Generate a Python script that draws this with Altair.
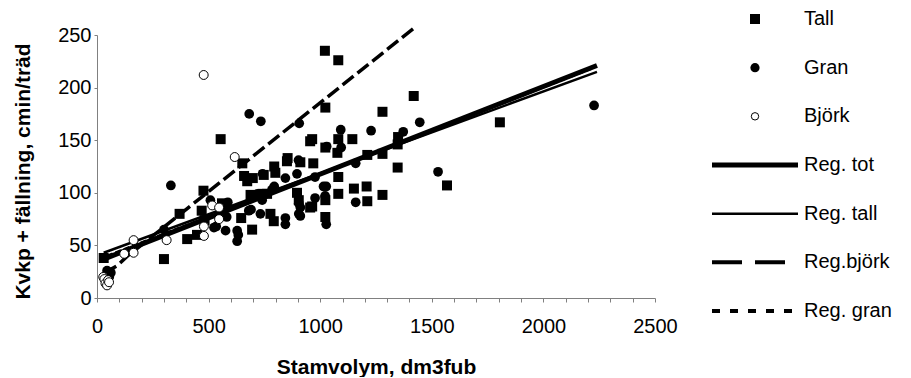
import altair as alt
import pandas as pd

# ---------------- data ----------------
tall_x = [30, 300, 370, 404, 448, 469, 477, 482, 554, 560, 646, 651, 659, 673, 688, 695, 698, 742, 747, 762,
          777, 792, 794, 799, 851, 854, 896, 904, 911, 955, 955, 964, 964, 969, 1021, 1023, 1023, 1023, 1023, 1077,
          1081, 1081, 1081, 1081, 1144, 1151, 1208, 1211, 1211, 1279, 1279, 1279, 1347, 1349, 1347, 1419, 1568, 1805]
tall_y = [38, 37, 80, 56, 60, 83, 102, 74, 151, 90, 76, 128, 116, 111, 98, 65, 114, 99, 117, 99,
          80, 73, 125, 119, 130, 133, 100, 93, 129, 149, 86, 151, 87, 128, 235, 181, 143, 93, 77, 138,
          226, 151, 115, 99, 151, 104, 106, 92, 136, 177, 137, 98, 146, 153, 124, 192, 107, 167]

gran_x = [45, 55, 62, 300, 331, 508, 524, 534, 554, 576, 581, 586, 628, 628, 633, 680, 682, 690, 719, 732,
          734, 740, 742, 784, 794, 844, 844, 844, 896, 903, 906, 904, 904, 911, 911, 977, 977, 1015, 1022, 1027,
          1029, 1027, 1092, 1094, 1159, 1159, 1228, 1372, 1446, 1528, 2227]
gran_y = [26, 20, 24, 65, 107, 93, 67, 68, 83, 64, 77, 91, 64, 54, 60, 83, 175, 84, 99, 80,
          168, 93, 118, 103, 106, 114, 76, 70, 118, 131, 166, 90, 80, 86, 78, 95, 115, 106, 97, 106,
          144, 70, 160, 143, 91, 128, 159, 158, 167, 120, 183]

bjork_x = [28, 33, 38, 45, 50, 54, 122, 164, 164, 312, 479, 479, 478, 516, 547, 547, 617]
bjork_y = [20, 18, 14, 12, 17, 15, 42, 55, 43, 55, 68, 59, 212, 88, 86, 75, 134]

# regression lines (fitted values)
reg_tot_x = [30, 2240]
reg_tot_y = [37, 221]
reg_tall_x = [30, 2240]
reg_tall_y = [43, 215]
reg_bjork_x = [31, 60, 92, 137, 250, 1417]
reg_bjork_y = [24, 27, 31, 40, 59, 256]
reg_gran_x = [45, 2227]
reg_gran_y = [40, 219]

x_ticks = list(range(0, 2600, 100))
y_ticks = [0, 50, 100, 150, 200, 250]
x_title = "Stamvolym, dm3fub"
y_title = "Kvkp + fällning, cmin/träd"

legend_labels = ["Tall", "Gran", "Björk", "Reg. tot", "Reg. tall", "Reg.björk", "Reg. gran"]

# ---------------- styling ----------------
FONT = "Liberation Sans"
GREY = "#808080"
W, H = 558, 263

x_enc = alt.X(
    "x:Q",
    scale=alt.Scale(domain=[0, 2500], nice=False, zero=False),
    axis=alt.Axis(
        values=x_ticks, format="d",
        labelExpr="datum.value % 500 === 0 ? datum.label : ''",
        labelOverlap=False, labelFlush=False,
        tickSize=4, labelPadding=14, labelFontSize=20, labelFont=FONT, labelColor="black",
        domainColor=GREY, tickColor=GREY, grid=False,
        title=x_title, titleFont=FONT, titleFontSize=21, titleFontWeight="bold",
        titleColor="black", titleBaseline="alphabetic", titleY=75,
    ),
)
y_enc = alt.Y(
    "y:Q",
    scale=alt.Scale(domain=[0, 250], nice=False, zero=False),
    axis=alt.Axis(
        values=y_ticks, format="d",
        tickSize=3, labelPadding=3, labelFontSize=20, labelFont=FONT, labelColor="black",
        domainColor=GREY, tickColor=GREY, grid=False,
        title=y_title, titleFont=FONT, titleFontSize=21, titleFontWeight="bold",
        titleColor="black", titleBaseline="alphabetic", titleX=-68, titleY=136,
    ),
)

def df(xs, ys):
    return pd.DataFrame({"x": xs, "y": ys})

tall = alt.Chart(df(tall_x, tall_y)).mark_point(
    shape="square", filled=True, size=100, color="black", opacity=1
).encode(x=x_enc, y=y_enc)

gran = alt.Chart(df(gran_x, gran_y)).mark_point(
    shape="circle", filled=True, size=95, color="black", opacity=1
).encode(x=x_enc, y=y_enc)

bjork = alt.Chart(df(bjork_x, bjork_y)).mark_point(
    shape="circle", filled=True, size=80, fill="white", stroke="black", strokeWidth=1, opacity=1
).encode(x=x_enc, y=y_enc)

line_gran = alt.Chart(df(reg_gran_x, reg_gran_y)).mark_line(
    color="black", strokeWidth=2.5, strokeDash=[6, 3], strokeCap="butt"
).encode(x=x_enc, y=y_enc)
line_tot = alt.Chart(df(reg_tot_x, reg_tot_y)).mark_line(
    color="black", strokeWidth=5, strokeCap="butt"
).encode(x=x_enc, y=y_enc)
line_tall = alt.Chart(df(reg_tall_x, reg_tall_y)).mark_line(
    color="black", strokeWidth=2.5, strokeCap="butt"
).encode(x=x_enc, y=y_enc)
line_bjork = alt.Chart(df(reg_bjork_x, reg_bjork_y)).mark_line(
    color="black", strokeWidth=3.5, strokeDash=[14, 5], strokeCap="butt"
).encode(x=x_enc, y=y_enc)

main = alt.layer(
    tall, gran, line_gran, line_tot, line_tall, line_bjork, bjork
).properties(width=W, height=H)

# ---------------- legend (own small chart) ----------------
lx = alt.X("lx:Q", scale=alt.Scale(domain=[0, 1], nice=False, zero=False), axis=None)
ly = alt.Y("row:Q", scale=alt.Scale(domain=[0.329, 5.733], reverse=True, nice=False, zero=False), axis=None)

def sym_df(r):
    return pd.DataFrame({"lx": [0.5], "row": [r]})

def seg_df(r):
    return pd.DataFrame({"lx": [0, 1], "row": [r, r]})

leg_tall = alt.Chart(sym_df(0)).mark_point(shape="square", filled=True, size=100, color="black", opacity=1).encode(x=lx, y=ly)
leg_gran = alt.Chart(sym_df(1)).mark_point(shape="circle", filled=True, size=85, color="black", opacity=1).encode(x=lx, y=ly)
leg_bjork = alt.Chart(sym_df(2)).mark_point(shape="circle", filled=True, size=55, fill="white", stroke="black", strokeWidth=1, opacity=1).encode(x=lx, y=ly)
leg_tot = alt.Chart(seg_df(3)).mark_line(color="black", strokeWidth=5, strokeCap="butt").encode(x=lx, y=ly)
leg_tall_l = alt.Chart(seg_df(4)).mark_line(color="black", strokeWidth=2.5, strokeCap="butt").encode(x=lx, y=ly)
leg_bjork_l = alt.Chart(seg_df(5)).mark_line(color="black", strokeWidth=4, strokeDash=[30, 13], strokeCap="butt").encode(x=lx, y=ly)
leg_gran_l = alt.Chart(seg_df(6)).mark_line(color="black", strokeWidth=4, strokeDash=[8, 10], strokeCap="butt").encode(x=lx, y=ly)
leg_text = alt.Chart(pd.DataFrame({"lx": [1] * 7, "row": list(range(7)), "label": legend_labels})).mark_text(
    align="left", baseline="middle", dx=6, fontSize=20, font=FONT, color="black"
).encode(x=lx, y=ly, text="label:N")

legend = alt.layer(
    leg_tall, leg_gran, leg_bjork, leg_tot, leg_tall_l, leg_bjork_l, leg_gran_l, leg_text
).properties(width=86, height=H)

chart = alt.hconcat(main, legend, spacing=57, bounds="flush").properties(
    padding={"left": 3, "top": 0, "right": 0, "bottom": 0}
).configure_view(stroke=None)

chart.save("out.html", embed_options={"renderer": "svg", "actions": False})
